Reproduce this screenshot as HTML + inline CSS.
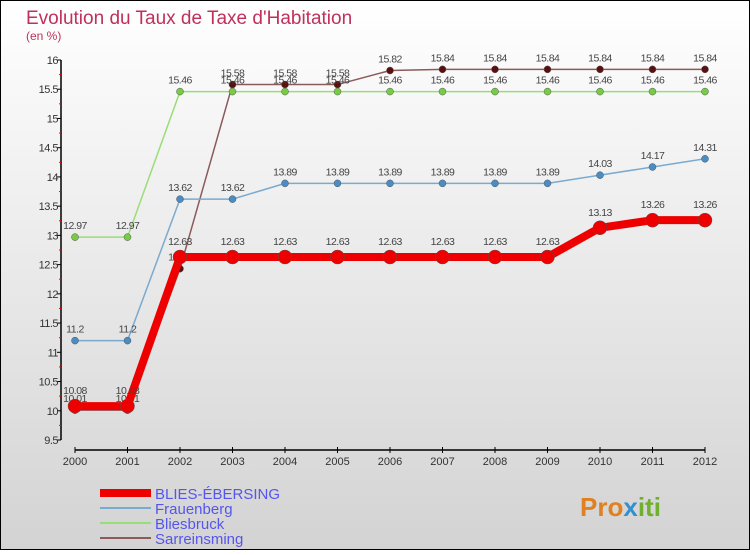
<!DOCTYPE html>
<html><head><meta charset="utf-8"><style>
html,body{margin:0;padding:0}
body{width:750px;height:550px;overflow:hidden;font-family:"Liberation Sans",sans-serif}
</style></head><body>
<svg id="chart" width="750" height="550" xmlns="http://www.w3.org/2000/svg">
<defs><linearGradient id="bg" x1="0" y1="0" x2="0" y2="1"><stop offset="0" stop-color="#ffffff"/><stop offset="1" stop-color="#d3d3d3"/></linearGradient></defs>
<rect x="0.5" y="0.5" width="749" height="549" fill="url(#bg)" stroke="#000"/>
<text x="26" y="24" font-size="19" fill="#c0305a">Evolution du Taux de Taxe d'Habitation</text>
<text x="26" y="40" font-size="12" fill="#c0305a">(en %)</text>
<g id="axes"></g><g id="series"></g><g id="legend"></g>
<text x="580" y="516" font-size="26" font-weight="bold" fill="#e08020">Pro<tspan fill="#3090d0">x</tspan><tspan fill="#70b030">iti</tspan></text>
</svg>
<script>
const years=[2000,2001,2002,2003,2004,2005,2006,2007,2008,2009,2010,2011,2012];
const seriesNames=["BLIES-ÉBERSING","Frauenberg","Bliesbruck","Sarreinsming"];
const blies=[10.08,10.08,12.63,12.63,12.63,12.63,12.63,12.63,12.63,12.63,13.13,13.26,13.26];
const frauenberg=[11.2,11.2,13.62,13.62,13.89,13.89,13.89,13.89,13.89,13.89,14.03,14.17,14.31];
const bliesbruck=[12.97,12.97,15.46,15.46,15.46,15.46,15.46,15.46,15.46,15.46,15.46,15.46,15.46];
const sarre=[10.01,10.01,12.43,15.58,15.58,15.58,15.82,15.84,15.84,15.84,15.84,15.84,15.84];
const yTicks=[9.5,10,10.5,11,11.5,12,12.5,13,13.5,14,14.5,15,15.5,16];
const NS="http://www.w3.org/2000/svg";
const x=i=>75+i*52.5;
const y=v=>440-(v-9.5)*(380/6.5);
function mk(tag,attrs,parent,text){const e=document.createElementNS(NS,tag);for(const k in attrs)e.setAttribute(k,attrs[k]);if(text!==undefined)e.textContent=text;parent.appendChild(e);return e;}
const axes=document.getElementById('axes');
let e=mk('line',{x1:61,y1:60,x2:61,y2:440,stroke:'#000','stroke-width':1.5},axes);


yTicks.forEach((t,i)=>{
 let l=mk('line',{x1:57,y1:y(t),x2:61,y2:y(t),stroke:'#000'},axes);
 
 
 if(i<yTicks.length-1){let m=mk('line',{x1:59,y1:y(t+0.25),x2:61,y2:y(t+0.25),stroke:'#f00'},axes);
 
 }
 let tx=mk('text',{x:58,y:y(t)+4,'font-size':11,'text-anchor':'end',fill:'#333','letter-spacing':'-0.5'},axes,String(t));
 
 
});
e=mk('line',{x1:75,y1:450,x2:705,y2:450,stroke:'#000','stroke-width':1.5},axes);


years.forEach((yr,i)=>{
 let l=mk('line',{x1:x(i),y1:447,x2:x(i),y2:453,stroke:'#000'},axes);
 
 
 let t=mk('text',{x:x(i),y:465,'font-size':11,'text-anchor':'middle',fill:'#333'},axes,String(yr));
 
 
});
const sg=document.getElementById('series');
const defs=[
 {d:sarre,c:'#8b5a5a',dot:'#5a1010',w:1.5,r:3.5,n:'sarreinsming'},
 {d:bliesbruck,c:'#99dd77',dot:'#77cc44',w:1.5,r:3.5,n:'bliesbruck'},
 {d:frauenberg,c:'#7aaad0',dot:'#4a8cc4',w:1.5,r:3.5,n:'frauenberg'},
 {d:blies,c:'#ee0000',dot:'#ee0000',w:8,r:7,n:'blies-ebersing'}
];
const order=[3,2,1,0];
defs.forEach(s=>{
 const g=mk('g',{},sg);
 
 
 const p=mk('polyline',{points:s.d.map((v,i)=>x(i)+','+y(v)).join(' '),fill:'none',stroke:s.c,'stroke-width':s.w,'stroke-linejoin':'round'},g);
 
 
 s.d.forEach((v,i)=>{
  const c=mk('circle',{cx:x(i),cy:y(v),r:s.r,fill:s.dot,stroke:'#555','stroke-width':0.5},g);
  
  
  const t=mk('text',{x:x(i),y:y(v)-(s.w>2?12:8),'font-size':10.5,'text-anchor':'middle',fill:'#444','letter-spacing':'-0.5'},g,String(v));
  
  
 });
});
const lg=document.getElementById('legend');
const legStyles=[{c:'#ee0000',w:8},{c:'#7aaad0',w:2},{c:'#99dd77',w:2},{c:'#8b5a5a',w:2}];
seriesNames.forEach((n,i)=>{
 const yy=493+i*15;
 const g=mk('g',{},lg);
 
 
 const l=mk('line',{x1:100,y1:yy,x2:151,y2:yy,stroke:legStyles[i].c,'stroke-width':legStyles[i].w},g);
 
 
 const t=mk('text',{x:155,y:yy+6,'font-size':15,fill:'#5555ee'},g,n);
 
 
});
</script>
</body></html>
